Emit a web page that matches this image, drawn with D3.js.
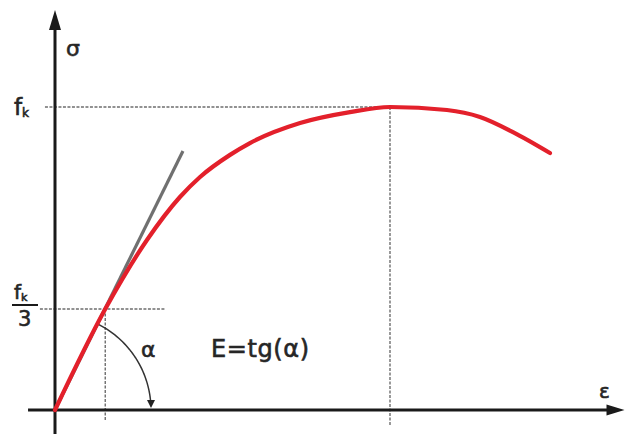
<!DOCTYPE html>
<html>
<head>
<meta charset="utf-8">
<script src="https://cdn.jsdelivr.net/npm/d3@7"></script>
<style>
  html, body { margin: 0; padding: 0; background: #fff; }
  svg { display: block; }
  text { font-family: "DejaVu Sans", "Liberation Sans", sans-serif; fill: #262626; stroke: #262626; stroke-width: 0.6px; }
</style>
</head>
<body>
<svg id="chart" width="626" height="434"></svg>
<script>
// Stress–strain curve of concrete: strain in ‰, stress relative to f_k
const strain = [0, 0.30, 0.549, 0.746, 0.866, 1.045, 1.164, 1.463, 1.761, 2.0, 2.340, 2.537, 2.734, 2.955];
const stress = [0, 0.333, 0.561, 0.703, 0.769, 0.842, 0.881, 0.947, 0.983, 1.0, 0.990, 0.967, 0.917, 0.848];

// Initial tangent (elastic modulus E = tg α)
const tangentStrain = [0, 0.764];
const tangentStress = [0, 0.855];

// Reference levels
const fk = 1.0;
const fk3 = fk / 3;
const strainAtFk3 = 0.30;
const strainAtPeak = 2.0;

// Axis extents
const xAxisExtent = [-0.161, 3.40];
const yAxisExtent = [-0.079, 1.32];

const svg = d3.select("#chart");

const x = d3.scaleLinear().domain([0, 2]).range([55, 390]);
const y = d3.scaleLinear().domain([0, 1]).range([410, 107]);

const dark = "#1a1a1a";
const dashGrey = "#6e6e6e";

// Dashed guide lines
const guides = [
  [[0, fk], [strainAtPeak, fk], -0.06],
  [[0, fk3], [0.66, fk3], -0.09],
];
guides.forEach(([a, b, x0]) => {
  svg.append("line")
    .attr("x1", x(x0)).attr("y1", y(a[1]))
    .attr("x2", x(b[0])).attr("y2", y(b[1]))
    .attr("stroke", dashGrey).attr("stroke-width", 1.4)
    .attr("stroke-dasharray", "3,1.5");
});
[[strainAtFk3, fk3, -0.033], [strainAtPeak, fk, -0.05]].forEach(([e, s, bottom]) => {
  svg.append("line")
    .attr("x1", x(e)).attr("y1", y(s))
    .attr("x2", x(e)).attr("y2", y(bottom))
    .attr("stroke", dashGrey).attr("stroke-width", 1.4)
    .attr("stroke-dasharray", "3,1.5");
});

// Axes with arrowheads
svg.append("line")
  .attr("x1", x(xAxisExtent[0])).attr("y1", y(0))
  .attr("x2", x(xAxisExtent[1]) - 10).attr("y2", y(0))
  .attr("stroke", dark).attr("stroke-width", 3);
svg.append("path")
  .attr("d", `M${x(xAxisExtent[1])},${y(0)} l-18,-5.5 l0,11 z`)
  .attr("fill", dark);

svg.append("line")
  .attr("x1", x(0)).attr("y1", y(yAxisExtent[0]))
  .attr("x2", x(0)).attr("y2", y(yAxisExtent[1]) + 10)
  .attr("stroke", dark).attr("stroke-width", 3);
svg.append("path")
  .attr("d", `M${x(0)},${y(yAxisExtent[1])} l-6,20 l12,0 z`)
  .attr("fill", dark);

// Angle arc α from the tangent down to the strain axis
const r = 96;
const o = [x(0), y(0)];
const tanAngle = Math.atan2(y(0) - y(tangentStress[1]), x(tangentStrain[1]) - x(0));
const arcPts = d3.range(0, 41).map(i => {
  const t = tanAngle - (tanAngle - 0.04) * i / 40;
  return [o[0] + r * Math.cos(t), o[1] - r * Math.sin(t)];
});
svg.append("path")
  .attr("d", d3.line()(arcPts))
  .attr("fill", "none").attr("stroke", "#333").attr("stroke-width", 1.5);
const endX = o[0] + r;
svg.append("path")
  .attr("d", `M${endX},${o[1] - 2} l-4,-8 l8,0 z`)
  .attr("fill", "#222");

// Tangent line
svg.append("line")
  .attr("x1", x(tangentStrain[0])).attr("y1", y(tangentStress[0]))
  .attr("x2", x(tangentStrain[1])).attr("y2", y(tangentStress[1]))
  .attr("stroke", "#707070").attr("stroke-width", 3.2);

// Stress–strain curve
const pts = strain.map((e, i) => [e, stress[i]]);
svg.append("path")
  .attr("d", d3.line().x(d => x(d[0])).y(d => y(d[1])).curve(d3.curveMonotoneX)(pts))
  .attr("fill", "none").attr("stroke", "#e3202b").attr("stroke-width", 4.2)
  .attr("stroke-linecap", "round");

// Labels
svg.append("text").attr("x", 66).attr("y", 56).attr("font-size", 22).text("σ");
svg.append("text").attr("x", 599).attr("y", 398).attr("font-size", 20).text("ε");

const fkLabel = svg.append("text").attr("x", 14).attr("y", 115).attr("font-size", 23);
fkLabel.append("tspan").text("f");
fkLabel.append("tspan").attr("font-size", 12).attr("dy", 2).text("k");

const fk3Label = svg.append("text").attr("x", 14).attr("y", y(fk3) - 10).attr("font-size", 20);
fk3Label.append("tspan").text("f");
fk3Label.append("tspan").attr("font-size", 11).attr("dy", 2).text("k");
svg.append("line")
  .attr("x1", 12).attr("x2", 38).attr("y1", y(fk3) - 4).attr("y2", y(fk3) - 4)
  .attr("stroke", dark).attr("stroke-width", 2);
svg.append("text").attr("x", 18).attr("y", y(fk3) + 17).attr("font-size", 21).text("3");

svg.append("text").attr("x", 141).attr("y", 357).attr("font-size", 22).text("α");
svg.append("text").attr("x", 211).attr("y", 357).attr("font-size", 24).attr("letter-spacing", 0.6).text("E=tg(α)");
</script>
</body>
</html>
